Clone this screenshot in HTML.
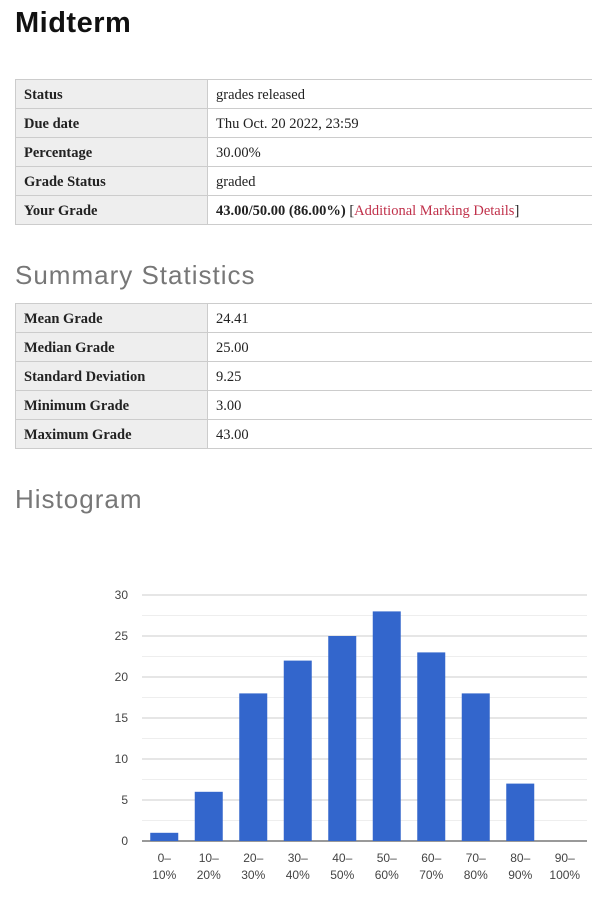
<!DOCTYPE html>
<html><head><meta charset="utf-8"><style>
body{margin:0;width:592px;height:901px;overflow:hidden;background:#fff;font-family:"Liberation Serif",serif;}
h1{position:absolute;left:15px;top:7px;margin:0;font:bold 29px "Liberation Sans",sans-serif;color:#111;letter-spacing:0.5px}
h2{position:absolute;left:15px;margin:0;font:normal 26px "Liberation Sans",sans-serif;color:#777;letter-spacing:1px}
table{position:absolute;left:15px;width:590px;border-collapse:collapse;font-size:14.5px}
td{border:1px solid #ccc;height:26px;padding:2px 8px 0 8px;color:#222}
td.l{background:#eee;font-weight:bold;width:175px}
a{color:#c0304a;text-decoration:none}
</style></head><body>
<h1>Midterm</h1>
<table style="top:79px">
<tr><td class="l">Status</td><td>grades released</td></tr>
<tr><td class="l">Due date</td><td>Thu Oct. 20 2022, 23:59</td></tr>
<tr><td class="l">Percentage</td><td>30.00%</td></tr>
<tr><td class="l">Grade Status</td><td>graded</td></tr>
<tr><td class="l">Your Grade</td><td><b>43.00/50.00 (86.00%)</b> [<a href="#">Additional Marking Details</a>]</td></tr>
</table>
<h2 style="top:260px">Summary Statistics</h2>
<table style="top:303px">
<tr><td class="l">Mean Grade</td><td>24.41</td></tr>
<tr><td class="l">Median Grade</td><td>25.00</td></tr>
<tr><td class="l">Standard Deviation</td><td>9.25</td></tr>
<tr><td class="l">Minimum Grade</td><td>3.00</td></tr>
<tr><td class="l">Maximum Grade</td><td>43.00</td></tr>
</table>
<h2 style="top:484px">Histogram</h2>
<svg id="chart" width="592" height="901" style="position:absolute;left:0;top:0"></svg>
<script>
const categories=["0–|10%","10–|20%","20–|30%","30–|40%","40–|50%","50–|60%","60–|70%","70–|80%","80–|90%","90–|100%"];
const counts=[1,6,18,22,25,28,23,18,7,0];
const yTicks=[0,5,10,15,20,25,30];
const svg=document.getElementById('chart');const NS='http://www.w3.org/2000/svg';
const x0=142,x1=587,yBase=841,yTop=595,yMax=30;
const y=v=>yBase-(v/yMax)*(yBase-yTop);
const step=(x1-x0)/categories.length;
const xc=i=>x0+step*(i+0.5);
function mk(t,a){const e=document.createElementNS(NS,t);for(const k in a)e.setAttribute(k,a[k]);svg.appendChild(e);return e;}
for(let v=2.5;v<yMax;v+=5){const l=mk('line',{x1:x0,x2:x1,y1:y(v),y2:y(v),stroke:'#eee'});

}
yTicks.forEach(v=>{const l=mk('line',{x1:x0,x2:x1,y1:y(v),y2:y(v),stroke:v===0?'#333':'#ccc'});


const t=mk('text',{x:128,y:y(v)+4,'text-anchor':'end','font-size':'12','font-family':'Liberation Sans, sans-serif',fill:'#444'});t.textContent=v;

});
counts.forEach((c,i)=>{const r=mk('rect',{x:xc(i)-14,y:y(c),width:28,height:yBase-y(c),fill:'#3366cc'});


const [a,b]=categories[i].split('|');
[a,b].forEach((s,j)=>{const t=mk('text',{x:xc(i),y:862+j*17,'text-anchor':'middle','font-size':'12','font-family':'Liberation Sans, sans-serif',fill:'#444'});t.textContent=s;

});});
</script>
</body></html>
